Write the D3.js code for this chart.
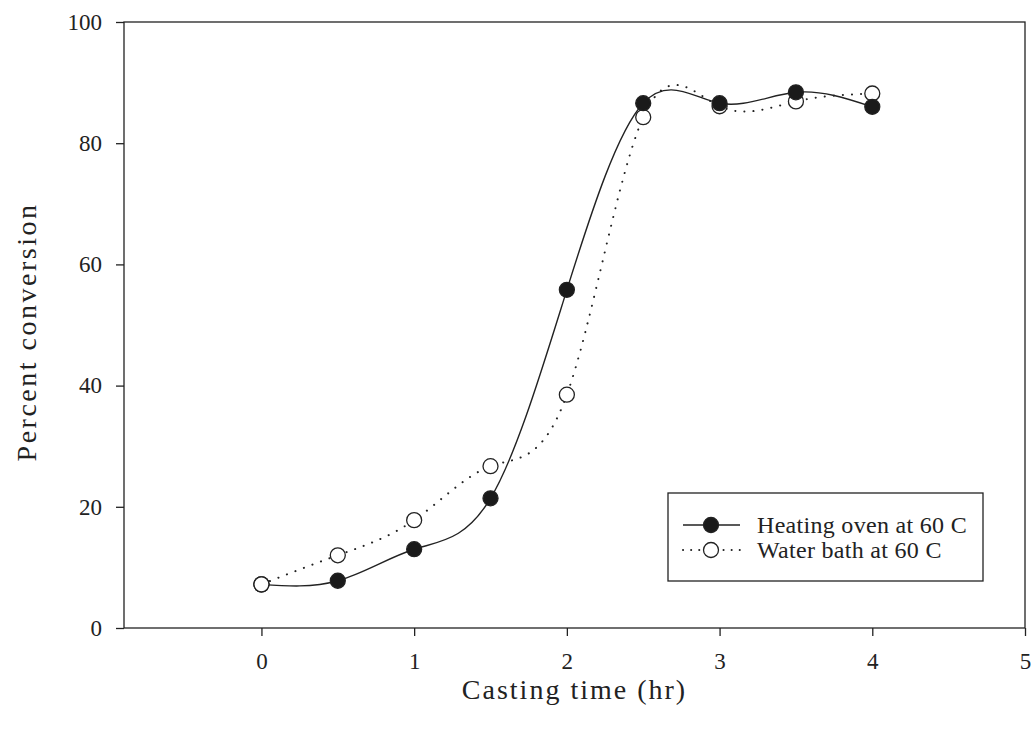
<!DOCTYPE html>
<html><head><meta charset="utf-8">
<script src="https://cdn.jsdelivr.net/npm/d3@7"></script>
<style>body{margin:0;background:#fff}svg{display:block}</style>
</head><body>
<svg id="c" width="1032" height="732"></svg>
<script>
const times = [0, 0.5, 1, 1.5, 2, 2.5, 3, 3.5, 4];
const ovenValues = [7.2, 7.8, 13.0, 21.4, 55.8, 86.6, 86.6, 88.4, 86.0];
const waterValues = [7.2, 12.0, 17.8, 26.7, 38.5, 84.3, 86.1, 86.9, 88.2];
const xTicks = [0, 1, 2, 3, 4, 5];
const yTicks = [0, 20, 40, 60, 80, 100];
const seriesNames = ["Heating oven at 60 C", "Water bath at 60 C"];

const svg = d3.select("#c");
const L = 124, R = 1025, T = 22, B = 628;
const x = d3.scaleLinear().domain([-0.9, 5]).range([L, R]);
const y = d3.scaleLinear().domain([0, 100]).range([B, T]);
const ink = "#222";
const font = "'Liberation Serif','Times New Roman',serif";

// frame
svg.append("rect").attr("x", L).attr("y", T).attr("width", R - L).attr("height", B - T)
  .attr("fill", "none").attr("stroke", ink).attr("stroke-width", 1.3);

const xAxis = svg.append("g").attr("transform", `translate(0,${B})`)
  .call(d3.axisBottom(x).tickValues(xTicks).tickSize(8).tickPadding(17).tickFormat(d3.format("d")));
const yAxis = svg.append("g").attr("transform", `translate(${L},0)`)
  .call(d3.axisLeft(y).tickValues(yTicks).tickSize(8).tickPadding(14).tickFormat(d3.format("d")));
[xAxis, yAxis].forEach(g => {
  g.select(".domain").remove();
  g.selectAll("line").attr("stroke", ink).attr("stroke-width", 1.3);
  g.selectAll("text").attr("font-family", font).attr("font-size", 23).attr("fill", ink);
});

const line = d3.line().x((d, i) => x(times[i])).y(d => y(d)).curve(d3.curveNatural);

svg.append("path").attr("d", line(waterValues)).attr("fill", "none").attr("stroke", ink)
  .attr("stroke-width", 2).attr("stroke-dasharray", "0.1 9").attr("stroke-linecap", "round");
svg.append("path").attr("d", line(ovenValues)).attr("fill", "none").attr("stroke", ink)
  .attr("stroke-width", 1.4);

svg.append("g").selectAll("circle").data(waterValues).join("circle")
  .attr("cx", (d, i) => x(times[i])).attr("cy", d => y(d)).attr("r", 7.5)
  .attr("fill", "#fff").attr("stroke", ink).attr("stroke-width", 1.3);
svg.append("g").selectAll("circle").data(ovenValues).join("circle")
  .attr("cx", (d, i) => x(times[i])).attr("cy", d => y(d)).attr("r", 7.5)
  .attr("fill", "#1a1a1a").attr("stroke", ink).attr("stroke-width", 1.3);
// first open circle drawn on top (oven point at 0 lies underneath)
svg.append("circle").attr("cx", x(times[0])).attr("cy", y(waterValues[0])).attr("r", 7.5)
  .attr("fill", "#fff").attr("stroke", ink).attr("stroke-width", 1.3);

// legend
const lg = svg.append("g");
lg.append("rect").attr("x", 668).attr("y", 493).attr("width", 315).attr("height", 88)
  .attr("fill", "#fff").attr("stroke", ink).attr("stroke-width", 1.3);
seriesNames.forEach((name, i) => {
  const yy = 525 + i * 25;
  const ln = lg.append("line").attr("x1", 683).attr("x2", 740).attr("y1", yy).attr("y2", yy)
    .attr("stroke", ink);
  if (i === 0) ln.attr("stroke-width", 1.4);
  else ln.attr("stroke-width", 2).attr("stroke-dasharray", "0.1 8").attr("stroke-linecap", "round");
  lg.append("circle").attr("cx", 711).attr("cy", yy).attr("r", 7.5)
    .attr("fill", i === 0 ? "#1a1a1a" : "#fff").attr("stroke", ink).attr("stroke-width", 1.3);
  lg.append("text").attr("x", 757).attr("y", yy).attr("dy", "0.35em")
    .attr("font-family", font).attr("font-size", 24).attr("letter-spacing", 0.3)
    .attr("fill", ink).text(name);
});

svg.append("text").attr("x", (L + R) / 2).attr("y", 699).attr("text-anchor", "middle")
  .attr("font-family", font).attr("font-size", 28).attr("letter-spacing", 2)
  .attr("fill", ink).text("Casting time (hr)");
svg.append("text").attr("transform", `translate(36,332) rotate(-90)`)
  .attr("text-anchor", "middle").attr("font-family", font).attr("font-size", 28)
  .attr("letter-spacing", 2.5).attr("fill", ink).text("Percent conversion");
</script>
</body></html>
